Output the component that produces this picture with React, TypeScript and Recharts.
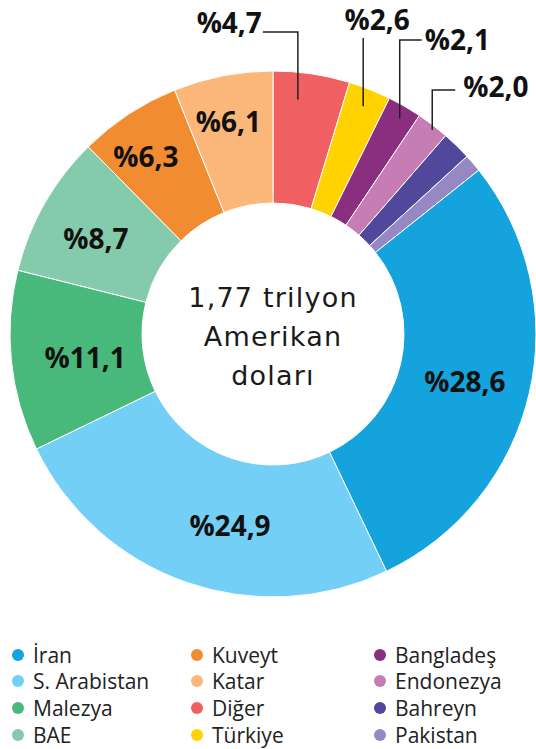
import { PieChart, Pie, Cell } from 'recharts';

// legend order (also clockwise order starting from İran)
const countries = ['İran', 'S. Arabistan', 'Malezya', 'BAE', 'Kuveyt', 'Katar', 'Diğer', 'Türkiye', 'Bangladeş', 'Endonezya', 'Bahreyn', 'Pakistan'];
const shares = [28.6, 24.9, 11.1, 8.7, 6.3, 6.1, 4.7, 2.6, 2.1, 2.0, 1.8, 1.1];
const colors = ['#14a3dc', '#73cff5', '#48b97b', '#83cbaa', '#f28c31', '#fbb679', '#f06062', '#ffd200', '#8a2f80', '#c57db4', '#52489b', '#9689c3'];
const centerLines = ['1,77 trilyon', 'Amerikan', 'doları'];

const rows = countries.map((name, i) => ({ name, value: shares[i], color: colors[i] }));
// chart starts at 12 o'clock with "Diğer"
const pieData = [...rows.slice(6), ...rows.slice(0, 6)];

const CX = 273;
const CY = 334;
const RAD = Math.PI / 180;
const FONT = '"Open Sans", sans-serif';

// inside label nudges (px) from the middle of the ring
const inside: Record<string, [number, number]> = {
  'İran': [0, 4],
  'S. Arabistan': [22, 6],
  'Malezya': [8, 4],
  'BAE': [-6, 3],
  'Kuveyt': [-19, -12],
  'Katar': [-7, -19],
};

// outside labels with leader lines
const outside: Record<string, { r: number; dx: number; elbowY: number; hx: number; tx: number; ty: number; anchor: 'start' | 'middle' | 'end' }> = {
  'Diğer': { r: 237, dx: -10, elbowY: 32, hx: -35, tx: -1, ty: 1, anchor: 'end' },
  'Türkiye': { r: 245, dx: 0, elbowY: 38, hx: 0, tx: 14, ty: -8, anchor: 'middle' },
  'Bangladeş': { r: 249, dx: 2, elbowY: 40, hx: 22, tx: 3, ty: 10, anchor: 'start' },
  'Endonezya': { r: 257, dx: 3, elbowY: 90, hx: 23, tx: 8, ty: 7, anchor: 'start' },
};

const fmt = (v: number) => '%' + v.toFixed(1).replace('.', ',');

function renderLabel(props: any) {
  const { cx, cy, midAngle, innerRadius, outerRadius, name, value } = props;
  const pos = (r: number) => ({
    x: cx + r * Math.cos(-midAngle * RAD),
    y: cy + r * Math.sin(-midAngle * RAD),
  });
  if (inside[name]) {
    const p = pos((innerRadius + outerRadius) / 2);
    const [dx, dy] = inside[name];
    return (
      <text x={p.x + dx} y={p.y + dy + 10} textAnchor="middle" fill="#111" fontFamily={FONT} fontWeight={700} fontSize={28}>
        {fmt(value)}
      </text>
    );
  }
  const o = outside[name];
  if (!o) return null;
  const p = pos(o.r);
  const x = p.x + o.dx;
  const pts = `${x},${p.y} ${x},${o.elbowY} ${x + o.hx},${o.elbowY}`;
  return (
    <g>
      <polyline points={pts} fill="none" stroke="#222" strokeWidth={1.5} />
      <text x={x + o.hx + o.tx} y={o.elbowY + o.ty} textAnchor={o.anchor} fill="#111" fontFamily={FONT} fontWeight={700} fontSize={28}>
        {fmt(value)}
      </text>
    </g>
  );
}

export default function App() {
  return (
    <div style={{ position: 'absolute', left: 0, top: 0, width: 536, height: 749, background: '#fff' }}>
      <PieChart width={536} height={620} margin={{ top: 0, right: 0, bottom: 0, left: 0 }}>
        <Pie
          data={pieData}
          dataKey="value"
          nameKey="name"
          cx={CX}
          cy={CY}
          innerRadius={131}
          outerRadius={263}
          startAngle={90}
          endAngle={-270}
          stroke="#fff"
          strokeWidth={1}
          label={renderLabel}
          labelLine={false}
          isAnimationActive={false}
        >
          {pieData.map(d => (
            <Cell key={d.name} fill={d.color} />
          ))}
        </Pie>
        <text textAnchor="middle" fill="#1a1a1a" fontFamily="'DejaVu Sans', sans-serif" fontSize={27} letterSpacing={1.2}>
          {centerLines.map((line, i) => (
            <tspan key={line} x={CX} y={307 + i * 39}>{line}</tspan>
          ))}
        </text>
      </PieChart>
      {rows.map((d, i) => {
        const col = Math.floor(i / 4);
        const row = i % 4;
        const left = [12, 191, 374][col];
        return (
          <div
            key={d.name}
            style={{
              position: 'absolute',
              left,
              top: 641 + row * 26.7,
              height: 27,
              display: 'flex',
              alignItems: 'center',
              fontFamily: FONT,
              fontSize: 21,
              color: '#222',
              whiteSpace: 'nowrap',
            }}
          >
            <span style={{ width: 12, height: 12, borderRadius: 6, background: d.color, marginRight: 9 }} />
            {d.name}
          </div>
        );
      })}
    </div>
  );
}
